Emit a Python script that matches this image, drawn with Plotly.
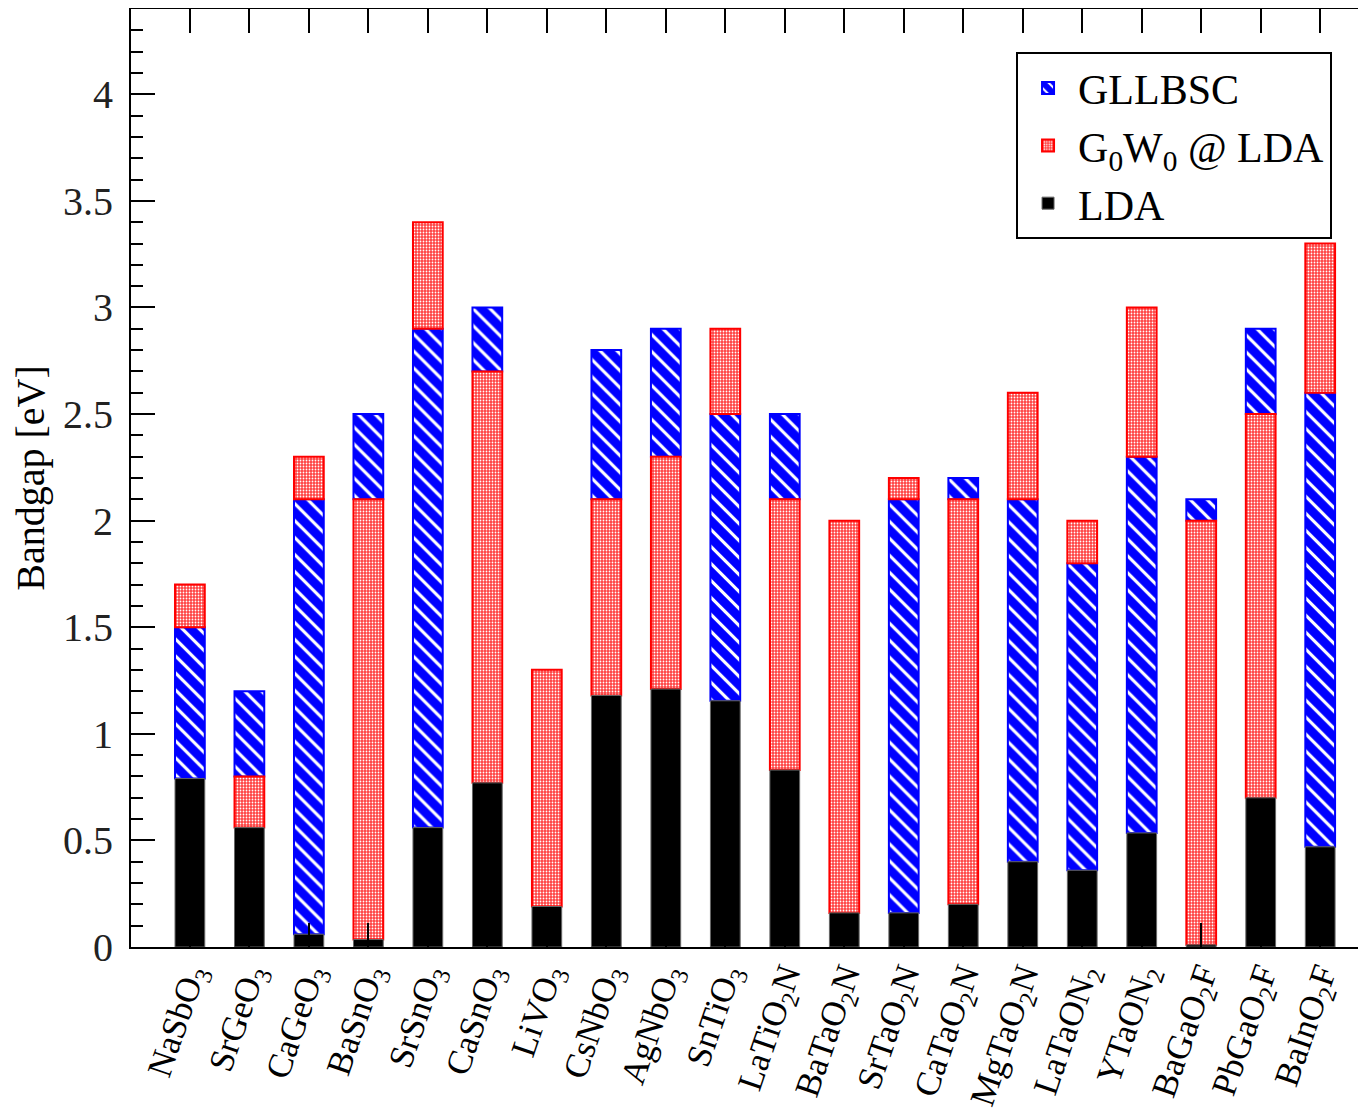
import plotly.graph_objects as go

categories = ["NaSbO<sub>3</sub>", "SrGeO<sub>3</sub>", "CaGeO<sub>3</sub>", "BaSnO<sub>3</sub>",
              "SrSnO<sub>3</sub>", "CaSnO<sub>3</sub>", "LiVO<sub>3</sub>", "CsNbO<sub>3</sub>",
              "AgNbO<sub>3</sub>", "SnTiO<sub>3</sub>", "LaTiO<sub>2</sub>N", "BaTaO<sub>2</sub>N",
              "SrTaO<sub>2</sub>N", "CaTaO<sub>2</sub>N", "MgTaO<sub>2</sub>N", "LaTaON<sub>2</sub>",
              "YTaON<sub>2</sub>", "BaGaO<sub>2</sub>F", "PbGaO<sub>2</sub>F", "BaInO<sub>2</sub>F"]

lda = [0.79, 0.56, 0.06, 0.035, 0.56, 0.77, 0.19, 1.18, 1.21, 1.155,
       0.83, 0.16, 0.16, 0.20, 0.40, 0.36, 0.535, 0.01, 0.70, 0.47]
g0w0 = [1.7, 0.8, 2.3, 2.1, 3.4, 2.7, 1.3, 2.1, 2.3, 2.9,
        2.1, 2.0, 2.2, 2.1, 2.6, 2.0, 3.0, 2.0, 2.5, 3.3]
gllbsc = [1.5, 1.2, 2.1, 2.5, 2.9, 3.0, None, 2.8, 2.9, 2.5,
          2.5, None, 2.1, 2.2, 2.1, 1.8, 2.3, 2.1, 2.9, 2.6]

series_names = ["GLLBSC", "G<sub>0</sub>W<sub>0</sub> @ LDA", "LDA"]
all_series = [gllbsc, g0w0, lda]


def segments(idx):
    """Each series is drawn from the next lower value in its category up to its own value."""
    bases, heights = [], []
    for i in range(len(categories)):
        v = all_series[idx][i]
        if v is None:
            bases.append(None)
            heights.append(None)
            continue
        lower = [s[i] for j, s in enumerate(all_series) if j != idx and s[i] is not None and s[i] < v]
        b = max(lower) if lower else 0.0
        bases.append(b)
        heights.append(v - b)
    return bases, heights


FONT = "Liberation Serif"
fig = go.Figure()

styles = [
    dict(color="white", line=dict(color="blue", width=2),
         pattern=dict(shape="\\", fgcolor="#0000ff", bgcolor="white", size=12,
                      solidity=0.74, fgopacity=1)),
    dict(color="white", line=dict(color="red", width=2),
         pattern=dict(shape=".", fgcolor="#ffffff", bgcolor="#ff4040", size=3,
                      solidity=0.28, fgopacity=1)),
    dict(color="black", line=dict(color="#666666", width=1)),
]

for k in range(3):
    b, h = segments(k)
    fig.add_trace(go.Bar(x=categories, y=h, base=b, name=series_names[k],
                         width=0.5, marker=styles[k]))

# the page body has an 8px margin, so the figure is sized/offset to compensate
fig.update_layout(
    width=1358, height=1109,
    margin=dict(l=123, r=0, t=1, b=170),
    plot_bgcolor="white", paper_bgcolor="white",
    barmode="overlay",
    font=dict(family=FONT, color="black"),
    legend=dict(x=0.9725, xanchor="right", y=0.954, yanchor="top",
                bordercolor="black", borderwidth=2, bgcolor="white",
                itemwidth=50,
                font=dict(family=FONT, size=42, color="black"),
                traceorder="normal"),
    xaxis=dict(type="category", range=[-0.99, 19.77], showline=True, linecolor="black",
               linewidth=2, mirror="ticks", ticks="inside", ticklen=24, tickwidth=2,
               tickcolor="black", tickangle=-71, showgrid=False, automargin=False,
               ticklabelstandoff=-9,
               tickfont=dict(family=FONT, size=35, color="black")),
    yaxis=dict(range=[0, 4.4], tick0=0, dtick=0.5, showline=True, linecolor="black",
               linewidth=2, ticks="inside", ticklen=24, tickwidth=2, tickcolor="black",
               minor=dict(dtick=0.1, ticks="inside", ticklen=12, tickwidth=2, tickcolor="black"),
               showgrid=False, zeroline=False, ticklabelstandoff=8, automargin=False,
               tickfont=dict(family=FONT, size=40, color="#222222"),
               title=dict(text="Bandgap [eV]", standoff=12,
                          font=dict(family=FONT, size=40, color="black"))),
    yaxis2=dict(range=[0, 4.4], tick0=0, dtick=0.5, overlaying="y", side="right", anchor="x",
                ticks="inside", ticklen=12, tickwidth=2, tickcolor="black", automargin=False,
                showticklabels=False, showline=False, showgrid=False, zeroline=False),
)

fig.write_html("out.html")
